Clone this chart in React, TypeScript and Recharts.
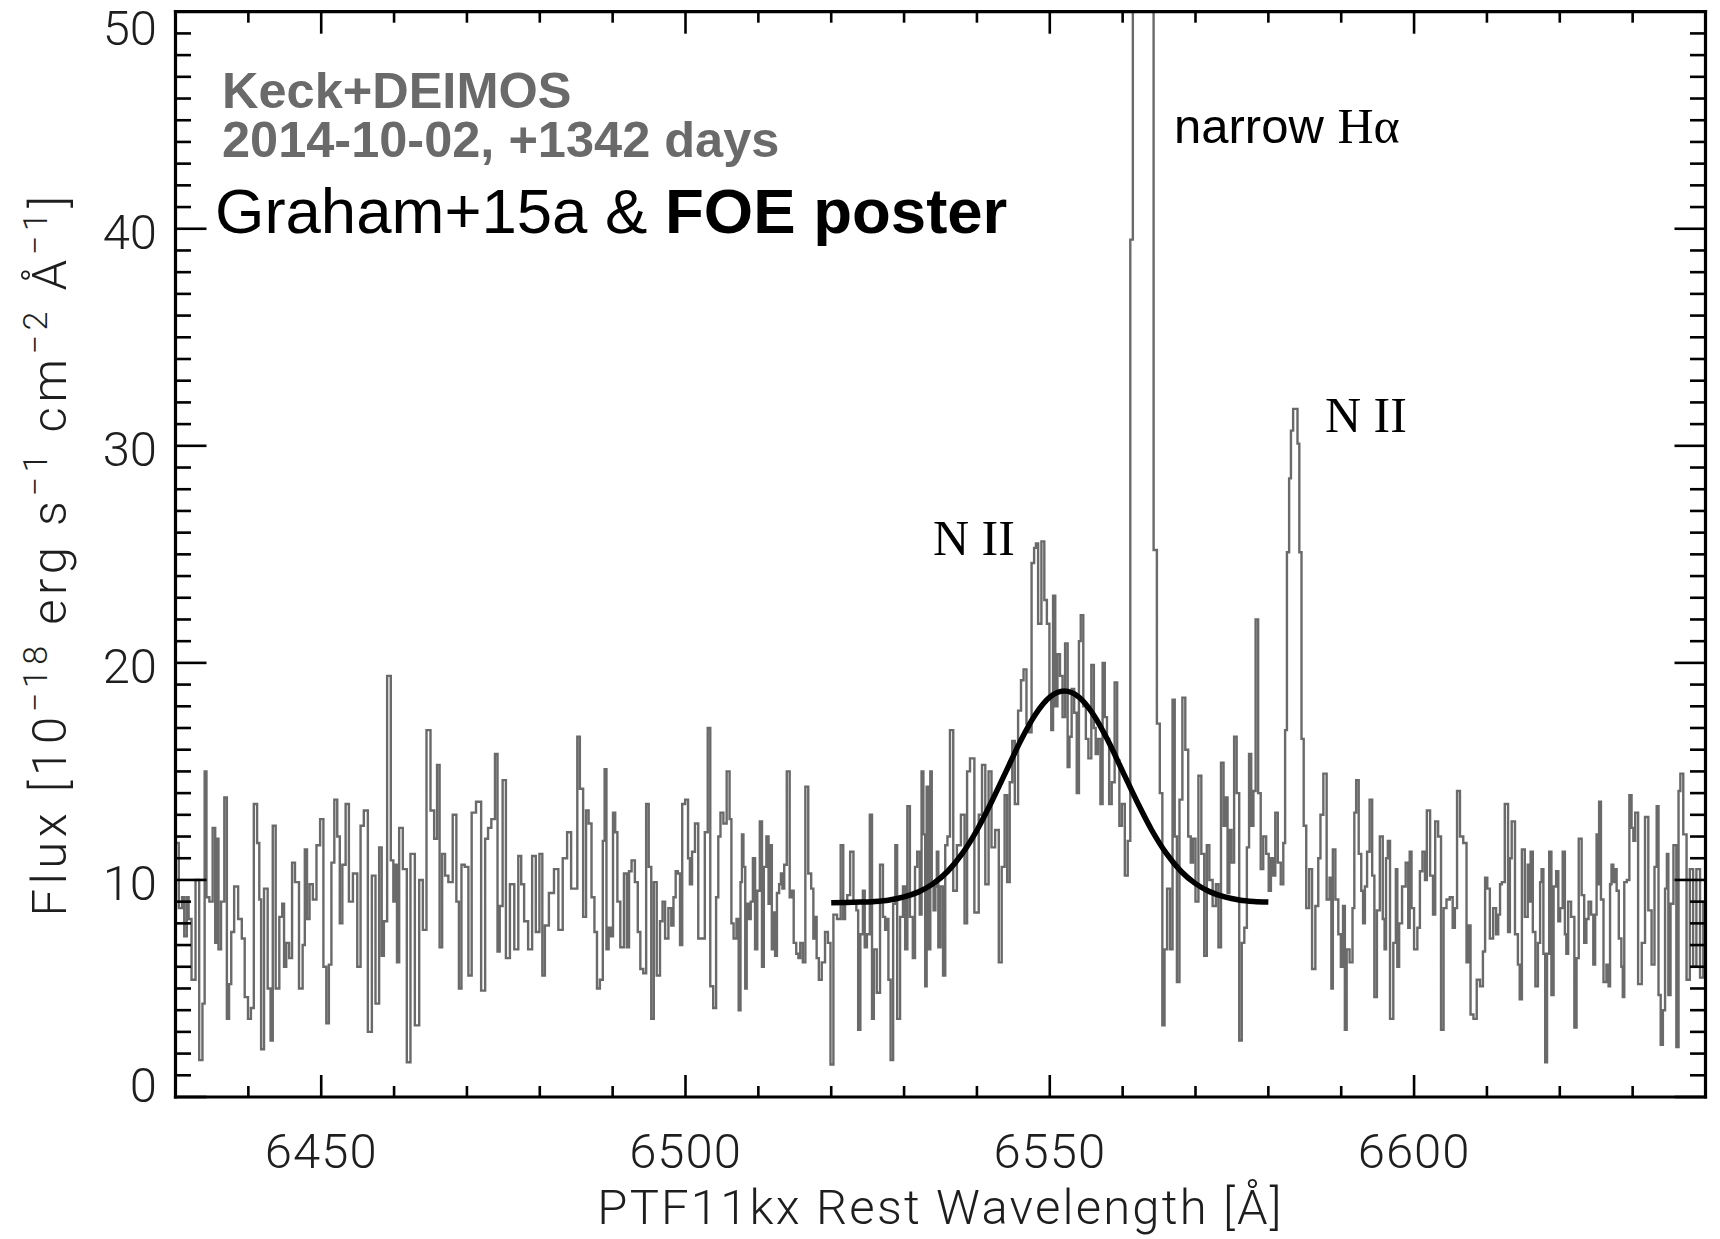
import React from 'react';
import { ComposedChart, Line, XAxis, YAxis } from 'recharts';

// ---------- layout constants (pixels) ----------
const W = 1720;
const H = 1239;
const PL = 175.5;
const PR = 1705.5;
const PT = 11.7;
const PB = 1097;

// ---------- axes ----------
const X_DOMAIN: [number, number] = [6430, 6640];
const Y_DOMAIN: [number, number] = [0, 50];
const X_TICKS = [6430, 6440, 6450, 6460, 6470, 6480, 6490, 6500, 6510, 6520, 6530, 6540, 6550, 6560, 6570, 6580, 6590, 6600, 6610, 6620, 6630, 6640];
const X_MAJOR = [6450, 6500, 6550, 6600];
const Y_TICKS = [0, 1, 2, 3, 4, 5, 6, 7, 8, 9, 10, 11, 12, 13, 14, 15, 16, 17, 18, 19, 20, 21, 22, 23, 24, 25, 26, 27, 28, 29, 30, 31, 32, 33, 34, 35, 36, 37, 38, 39, 40, 41, 42, 43, 44, 45, 46, 47, 48, 49, 50];
const Y_MAJOR = [0, 10, 20, 30, 40, 50];

// ---------- spectrum: [rest wavelength (A), flux (1e-18 erg/s/cm2/A)] ----------
const SPEC_6430_6485 = [
  [6430.1, 11.7], [6430.8, 8.7], [6431.0, 9.2], [6431.4, 7.4], [6431.7, 9.2], [6431.9, 8.2], [6432.5, 5.4], [6433.0, 10.0], [6433.5, 1.7], [6433.9, 4.3],
  [6434.1, 15.0], [6434.4, 9.2], [6434.9, 9.0], [6435.3, 12.4], [6435.6, 7.1], [6435.8, 11.9], [6436.0, 6.8], [6436.5, 9.0], [6436.9, 13.8], [6437.2, 3.6],
  [6437.5, 5.2], [6437.8, 7.6], [6438.3, 9.7], [6438.9, 8.2], [6439.3, 7.3], [6439.7, 4.6], [6440.2, 3.6], [6440.5, 4.1], [6441.0, 13.5], [6441.4, 11.7],
  [6441.6, 9.1], [6441.9, 2.2], [6442.4, 9.6], [6442.9, 5.0], [6443.2, 2.6], [6443.5, 12.5], [6444.0, 5.0], [6444.5, 8.3], [6444.8, 8.9], [6445.0, 6.0],
  [6445.4, 7.1], [6445.8, 6.4], [6446.2, 10.8], [6446.6, 9.9], [6447.3, 5.0], [6447.6, 7.0], [6447.9, 11.4], [6448.2, 8.2], [6448.6, 9.8], [6449.1, 9.1],
  [6449.6, 11.6], [6450.1, 12.8], [6450.5, 6.0], [6450.9, 3.4], [6451.2, 6.1], [6451.6, 10.8], [6452.0, 13.7], [6452.4, 12.0], [6452.7, 8.0], [6453.1, 10.7],
  [6453.6, 13.5], [6454.0, 9.0], [6454.7, 10.3], [6455.2, 6.0], [6455.6, 12.5], [6456.1, 13.2], [6456.7, 3.0], [6457.2, 10.2], [6457.7, 4.3], [6458.2, 11.5],
  [6458.4, 6.5], [6458.8, 8.1], [6459.3, 19.4], [6459.8, 10.9], [6460.0, 9.0], [6460.3, 10.7], [6460.5, 6.2], [6460.9, 12.4], [6461.5, 10.5], [6462.0, 1.6],
  [6462.5, 11.2], [6463.2, 3.3], [6463.7, 10.0], [6464.2, 7.7], [6464.7, 16.9], [6465.3, 13.2], [6465.7, 11.9], [6466.1, 15.3], [6466.4, 6.9], [6466.8, 11.2],
  [6467.2, 10.2], [6467.7, 9.9], [6468.4, 13.0], [6468.7, 9.0], [6469.1, 5.0], [6469.4, 10.7], [6470.0, 10.6], [6470.4, 5.6], [6470.9, 13.1], [6471.6, 13.6],
  [6472.3, 4.9], [6472.7, 11.9], [6473.1, 12.4], [6473.6, 12.8], [6474.1, 15.8], [6474.3, 6.7], [6474.7, 8.8], [6475.1, 14.6], [6475.6, 6.4], [6476.2, 9.8],
  [6476.8, 6.8], [6477.3, 11.1], [6477.6, 9.8], [6478.1, 8.1], [6478.7, 6.8], [6479.2, 11.1], [6479.7, 7.6], [6480.2, 11.2], [6480.5, 5.6], [6480.9, 7.9],
  [6481.6, 9.4], [6482.3, 10.5], [6482.8, 7.7], [6483.5, 11.0], [6484.0, 12.2], [6484.6, 9.6],
];

const SPEC_6485_6540 = [
  [6485.0, 9.6], [6485.3, 16.6], [6485.7, 14.2], [6486.2, 8.3], [6486.5, 13.2], [6486.9, 12.6], [6487.3, 9.2], [6487.7, 7.6], [6488.0, 5.0], [6488.5, 5.4],
  [6488.8, 11.8], [6489.0, 15.1], [6489.3, 6.8], [6489.6, 7.8], [6489.9, 7.4], [6490.2, 13.1], [6490.5, 12.2], [6490.8, 9.0], [6491.3, 6.9], [6491.8, 10.3],
  [6492.1, 6.9], [6492.4, 10.4], [6492.8, 10.9], [6493.3, 9.9], [6493.6, 7.6], [6494.0, 5.9], [6494.4, 5.7], [6494.8, 13.5], [6495.1, 10.6], [6495.5, 3.6],
  [6495.8, 9.9], [6496.3, 5.6], [6496.7, 8.1], [6497.0, 9.0], [6497.4, 7.3], [6497.9, 8.7], [6498.2, 7.9], [6498.5, 9.2], [6498.8, 10.4], [6499.1, 10.3],
  [6499.4, 7.0], [6499.7, 13.5], [6500.2, 13.7], [6500.5, 11.0], [6500.7, 9.8], [6501.1, 11.3], [6501.5, 12.6], [6502.0, 7.3], [6502.4, 7.3], [6502.9, 12.2],
  [6503.2, 17.0], [6503.6, 5.1], [6504.0, 4.1], [6504.4, 9.2], [6504.6, 12.0], [6505.0, 13.1], [6505.4, 12.6], [6505.9, 15.0], [6506.2, 12.8], [6506.4, 8.0],
  [6506.8, 7.3], [6507.2, 8.2], [6507.4, 4.0], [6507.7, 9.9], [6507.8, 12.1], [6508.1, 10.6], [6508.3, 5.0], [6508.5, 8.9], [6508.8, 8.2], [6509.1, 9.0],
  [6509.4, 11.0], [6509.7, 6.8], [6510.0, 9.5], [6510.4, 12.7], [6510.6, 6.0], [6510.9, 10.6], [6511.3, 12.0], [6511.5, 8.9], [6511.7, 11.6], [6512.0, 6.8],
  [6512.2, 8.5], [6512.4, 6.5], [6512.7, 9.4], [6513.0, 9.8], [6513.2, 10.3], [6513.4, 9.6], [6513.7, 10.7], [6514.1, 15.0], [6514.5, 9.2], [6514.7, 9.5],
  [6515.0, 7.1], [6515.4, 6.6], [6515.6, 6.4], [6515.9, 7.1], [6516.3, 6.2], [6516.6, 14.3], [6517.1, 10.3], [6517.4, 9.6], [6517.7, 7.3], [6517.9, 8.3],
  [6518.1, 6.4], [6518.5, 5.4], [6518.9, 6.2], [6519.4, 7.6], [6519.7, 7.1], [6520.1, 1.5], [6520.5, 8.4], [6521.1, 8.2], [6521.5, 11.6], [6521.8, 8.2],
  [6522.0, 9.0], [6522.4, 9.3], [6522.8, 11.3], [6523.3, 8.9], [6523.6, 8.6], [6523.8, 3.1], [6524.2, 7.5], [6524.5, 9.5], [6524.7, 6.9], [6525.1, 7.5],
  [6525.5, 13.0], [6525.7, 3.6], [6526.0, 6.8], [6526.5, 4.8], [6526.9, 10.7], [6527.3, 8.3], [6527.5, 7.7], [6527.7, 8.2], [6528.0, 5.4], [6528.3, 1.7],
  [6528.7, 8.9], [6528.9, 11.6], [6529.2, 3.6], [6529.7, 8.3], [6530.0, 9.7], [6530.3, 6.8], [6530.6, 13.4], [6531.0, 8.3], [6531.4, 6.4], [6531.6, 10.6],
  [6532.0, 11.3], [6532.3, 8.4], [6532.5, 15.0], [6532.8, 12.1], [6533.0, 5.1], [6533.2, 14.3], [6533.5, 6.8], [6533.7, 15.0], [6533.9, 9.8], [6534.2, 8.6],
  [6534.4, 9.7], [6534.6, 11.3], [6534.8, 6.9], [6535.2, 9.7], [6535.5, 5.6], [6535.8, 11.6], [6536.1, 12.0], [6536.5, 16.9], [6537.0, 9.5], [6537.5, 11.6],
  [6538.1, 13.0], [6538.5, 8.0], [6538.8, 15.0], [6539.3, 15.6],
];

const SPEC_6540_6588 = [
  [6540.0, 8.5], [6540.5, 13.0], [6540.9, 15.3], [6541.4, 9.8], [6541.8, 15.0], [6542.2, 11.5], [6542.8, 12.3], [6543.2, 6.2], [6543.6, 10.6], [6544.0, 13.9],
  [6544.3, 9.9], [6544.7, 14.5], [6545.0, 16.4], [6545.4, 13.5], [6545.9, 17.8], [6546.2, 19.2], [6546.6, 19.7], [6547.0, 17.2], [6547.3, 16.8], [6547.7, 24.6],
  [6548.0, 25.3], [6548.2, 25.5], [6548.6, 21.8], [6549.1, 25.6], [6549.4, 22.9], [6549.8, 21.8], [6550.1, 18.5], [6550.3, 16.9], [6550.6, 23.1], [6550.9, 18.0],
  [6551.2, 20.4], [6551.6, 19.4], [6551.9, 17.5], [6552.3, 20.9], [6552.6, 15.2], [6552.8, 16.6], [6553.2, 18.8], [6553.5, 17.7], [6553.9, 14.0], [6554.1, 21.0],
  [6554.4, 22.2], [6554.8, 18.0], [6555.1, 16.5], [6555.5, 15.6], [6555.9, 19.9], [6556.2, 17.0], [6556.4, 15.8], [6556.8, 16.5], [6557.1, 13.5], [6557.4, 20.0],
  [6557.7, 17.5], [6558.0, 16.5], [6558.3, 13.5], [6558.7, 14.5], [6559.1, 19.1], [6559.4, 15.5], [6559.7, 12.5], [6560.1, 13.5], [6560.5, 10.2], [6560.9, 11.8],
  [6561.2, 39.5], [6561.6, 160], [6562.0, 300], [6562.4, 320], [6562.8, 240], [6563.2, 150], [6563.6, 90], [6564.0, 55], [6564.5, 25.2], [6564.9, 17.2],
  [6565.3, 14.0], [6565.6, 3.3], [6565.9, 6.8], [6566.3, 9.6], [6566.7, 6.8], [6567.0, 18.3], [6567.3, 12.0], [6567.6, 5.3], [6568.0, 13.7], [6568.4, 18.4],
  [6568.8, 16.0], [6569.2, 12.0], [6569.5, 10.8], [6569.8, 11.9], [6570.2, 9.0], [6570.6, 14.8], [6571.0, 11.2], [6571.4, 6.5], [6571.7, 11.6], [6572.1, 10.0],
  [6572.6, 8.8], [6573.0, 9.8], [6573.3, 6.9], [6573.7, 15.4], [6574.0, 12.5], [6574.3, 13.8], [6574.5, 9.4], [6574.8, 12.3], [6575.1, 10.8], [6575.5, 16.6],
  [6575.8, 14.0], [6576.2, 2.6], [6576.5, 7.1], [6576.9, 7.8], [6577.2, 11.5], [6577.5, 15.8], [6577.8, 12.5], [6578.1, 14.1], [6578.4, 22.0], [6578.8, 14.0],
  [6579.1, 10.5], [6579.5, 12.0], [6579.9, 11.2], [6580.2, 9.5], [6580.5, 11.0], [6580.8, 10.2], [6581.1, 13.1], [6581.5, 10.8], [6581.9, 9.8], [6582.2, 11.7],
  [6582.4, 16.9], [6582.7, 25.1], [6583.0, 28.5], [6583.2, 30.7], [6583.6, 31.7], [6583.9, 31.7], [6584.1, 30.1], [6584.4, 25.1], [6584.7, 16.5], [6585.0, 12.5],
  [6585.4, 8.7], [6585.8, 10.5], [6586.2, 5.9], [6586.7, 8.8], [6587.0, 11.0], [6587.3, 13.0], [6587.8, 14.9], [6588.2, 9.1],
];

const SPEC_6588_6640 = [
  [6588.6, 10.1], [6588.7, 5.0], [6589.0, 11.4], [6589.4, 9.1], [6589.8, 7.5], [6590.1, 6.0], [6590.4, 8.8], [6590.6, 3.1], [6590.9, 6.8], [6591.4, 6.2],
  [6591.7, 8.7], [6591.9, 13.1], [6592.2, 14.6], [6592.6, 11.2], [6592.9, 9.5], [6593.1, 8.0], [6593.4, 9.7], [6593.7, 11.3], [6594.1, 13.7], [6594.4, 10.2],
  [6594.7, 4.6], [6595.1, 8.6], [6595.5, 12.0], [6595.9, 8.2], [6596.0, 6.8], [6596.3, 11.0], [6596.5, 11.8], [6596.9, 3.6], [6597.4, 7.1], [6597.6, 10.5],
  [6597.8, 6.0], [6598.1, 8.0], [6598.6, 9.7], [6599.1, 10.8], [6599.3, 7.8], [6599.5, 11.3], [6599.8, 8.7], [6600.2, 6.8], [6600.7, 7.8], [6600.9, 10.4],
  [6601.4, 11.3], [6601.6, 10.0], [6601.9, 13.2], [6602.5, 10.2], [6602.7, 8.4], [6603.1, 12.7], [6603.5, 12.0], [6603.9, 3.1], [6604.2, 8.7], [6604.7, 9.1],
  [6605.1, 9.2], [6605.5, 7.8], [6605.7, 8.7], [6606.1, 14.1], [6606.5, 12.0], [6607.0, 11.7], [6607.4, 6.2], [6607.6, 7.9], [6607.9, 3.8], [6608.4, 3.6],
  [6608.8, 5.4], [6609.3, 5.1], [6609.6, 6.7], [6609.9, 10.1], [6610.2, 9.6], [6610.6, 7.3], [6611.1, 8.7], [6611.4, 7.5], [6611.7, 8.4], [6611.9, 9.8],
  [6612.2, 9.9], [6612.7, 13.5], [6613.1, 7.6], [6613.2, 11.0], [6613.6, 12.7], [6614.1, 7.5], [6614.4, 6.1], [6614.6, 4.5], [6615.0, 11.4], [6615.4, 8.3],
  [6615.8, 10.7], [6615.9, 9.0], [6616.1, 11.3], [6616.5, 7.6], [6616.8, 5.1], [6617.2, 7.1], [6617.4, 9.9], [6617.6, 10.5], [6617.9, 6.6], [6618.1, 1.6],
  [6618.4, 6.6], [6618.7, 11.3], [6619.0, 4.7], [6619.3, 9.7], [6619.7, 10.4], [6619.9, 8.1], [6620.2, 8.7], [6620.6, 11.3], [6620.8, 7.5], [6621.0, 6.6],
  [6621.3, 9.0], [6621.8, 8.3], [6622.2, 3.2], [6622.4, 6.4], [6622.8, 11.9], [6623.2, 9.3], [6623.5, 7.1], [6623.8, 8.2], [6624.1, 9.0], [6624.5, 8.4],
  [6624.7, 6.1], [6625.0, 8.4], [6625.1, 12.1], [6625.3, 9.8], [6625.5, 13.6], [6625.8, 9.1], [6626.2, 5.3], [6626.6, 6.1], [6626.8, 5.1], [6627.0, 9.8],
  [6627.2, 10.7], [6627.5, 9.9], [6627.7, 10.5], [6627.9, 9.5], [6628.3, 7.3], [6628.6, 6.0], [6628.7, 4.6], [6629.0, 9.9], [6629.4, 10.0], [6629.7, 13.9],
  [6630.0, 12.4], [6630.2, 11.8], [6630.5, 13.1], [6631.0, 5.2], [6631.5, 7.1], [6631.9, 12.9], [6632.4, 8.6], [6632.8, 6.1], [6633.2, 10.6], [6633.4, 13.4],
  [6633.7, 4.7], [6634.0, 2.4], [6634.3, 4.0], [6634.6, 9.6], [6634.8, 11.2], [6635.0, 4.7], [6635.4, 8.9], [6635.8, 11.6], [6636.2, 2.3], [6636.4, 14.1],
  [6636.7, 14.9], [6637.2, 12.1], [6637.6, 5.4], [6638.1, 10.5], [6638.5, 6.0], [6639.0, 10.5], [6639.5, 5.5], [6639.9, 8.9],
];

// ---------- broad H-alpha Gaussian fit ----------
const FIT_WAVE = [6520, 6522, 6524, 6526, 6528, 6530, 6532, 6534, 6536, 6538, 6540, 6542, 6544, 6546, 6548, 6550, 6552, 6554, 6556, 6558, 6560, 6562, 6564, 6566, 6568, 6570, 6572, 6574, 6576, 6578, 6580];
const FIT_FLUX = [8.95, 8.96, 8.98, 9.01, 9.08, 9.22, 9.45, 9.83, 10.4, 11.22, 12.29, 13.59, 15.0, 16.41, 17.61, 18.42, 18.7, 18.42, 17.61, 16.41, 15.0, 13.59, 12.29, 11.22, 10.4, 9.83, 9.45, 9.22, 9.08, 9.01, 8.98];

const SPECTRUM = [...SPEC_6430_6485, ...SPEC_6485_6540, ...SPEC_6540_6588, ...SPEC_6588_6640].map(([w, f]) => ({ w, f }));
const FIT = FIT_WAVE.map((w, i) => ({ w, f: FIT_FLUX[i] }));

// ---------- fonts / colours ----------
const LIGHT = "'Roboto', 'Liberation Sans', sans-serif";
const HELV = "'Liberation Sans', Arial, Helvetica, sans-serif";
const TIMES = "'Liberation Serif', 'Times New Roman', serif";
const INK = '#1e1e1e';
const SPEC_GRAY = '#6a6a6a';

// y tick label vertical centres (the end labels sit inside the frame, as in the original)
const yLabelCenter = (v: number, y: number) => {
  if (v === 0) return y - 13;
  if (v === 50) return y + 16;
  return y + 3;
};

const LeftTick = (props: any) => {
  const { y, payload } = props;
  const v = payload.value as number;
  const major = Y_MAJOR.includes(v);
  const len = major ? 31 : 15.5;
  return (
    <g>
      <line x1={PL} x2={PL + len} y1={y} y2={y} stroke="#000" strokeWidth={2.6} />
      {major && (
        <text x={157} y={yLabelCenter(v, y) + 17.5} textAnchor="end" fontFamily={LIGHT} fontWeight={300} fontSize={49} fill={INK}>
          {v}
        </text>
      )}
    </g>
  );
};

const RightTick = (props: any) => {
  const { y, payload } = props;
  const v = payload.value as number;
  const len = Y_MAJOR.includes(v) ? 31 : 15.5;
  return <line x1={PR} x2={PR - len} y1={y} y2={y} stroke="#000" strokeWidth={2.6} />;
};

const BottomTick = (props: any) => {
  const { x, payload } = props;
  const v = payload.value as number;
  const major = X_MAJOR.includes(v);
  const len = major ? 22 : 11;
  return (
    <g>
      <line x1={x} x2={x} y1={PB} y2={PB - len} stroke="#000" strokeWidth={2.6} />
      {major && (
        <text x={x} y={1168} textAnchor="middle" fontFamily={LIGHT} fontWeight={300} fontSize={49} letterSpacing={1} fill={INK}>
          {v}
        </text>
      )}
    </g>
  );
};

const TopTick = (props: any) => {
  const { x, payload } = props;
  const v = payload.value as number;
  const len = X_MAJOR.includes(v) ? 22 : 11;
  return <line x1={x} x2={x} y1={PT} y2={PT + len} stroke="#000" strokeWidth={2.6} />;
};

const AXIS_LINE = { stroke: '#000', strokeWidth: 3.2, strokeLinecap: 'square' as const };

export default function App() {
  return (
    <div style={{ position: 'absolute', left: 0, top: 0, width: W, height: H, background: '#fff' }}>
      <ComposedChart
        width={W}
        height={H}
        margin={{ top: PT - 1, right: W - PR - 1, bottom: H - PB - 1, left: PL - 1 }}
      >
        <XAxis
          xAxisId="b"
          type="number"
          dataKey="w"
          domain={X_DOMAIN}
          allowDataOverflow
          ticks={X_TICKS}
          interval={0}
          height={1}
          tickLine={false}
          tickSize={0}
          tick={BottomTick}
          axisLine={AXIS_LINE}
        />
        <XAxis
          xAxisId="t"
          orientation="top"
          type="number"
          dataKey="w"
          domain={X_DOMAIN}
          allowDataOverflow
          ticks={X_TICKS}
          interval={0}
          height={1}
          tickLine={false}
          tickSize={0}
          tick={TopTick}
          axisLine={AXIS_LINE}
        />
        <YAxis
          yAxisId="l"
          type="number"
          domain={Y_DOMAIN}
          allowDataOverflow
          ticks={Y_TICKS}
          interval={0}
          width={1}
          tickLine={false}
          tickSize={0}
          tick={LeftTick}
          axisLine={AXIS_LINE}
        />
        <YAxis
          yAxisId="r"
          orientation="right"
          type="number"
          domain={Y_DOMAIN}
          allowDataOverflow
          ticks={Y_TICKS}
          interval={0}
          width={1}
          tickLine={false}
          tickSize={0}
          tick={RightTick}
          axisLine={AXIS_LINE}
        />
        <Line
          data={SPECTRUM}
          xAxisId="b"
          yAxisId="l"
          dataKey="f"
          type="step"
          stroke={SPEC_GRAY}
          strokeWidth={2.4}
          dot={false}
          activeDot={false}
          isAnimationActive={false}
        />
        <Line
          data={FIT}
          xAxisId="b"
          yAxisId="l"
          dataKey="f"
          type="monotone"
          stroke="#000"
          strokeWidth={5.5}
          dot={false}
          activeDot={false}
          isAnimationActive={false}
        />
      </ComposedChart>

      <svg width={W} height={H} style={{ position: 'absolute', left: 0, top: 0, pointerEvents: 'none' }}>
        {/* in-plot annotations */}
        <text x={222} y={108} fontFamily={HELV} fontWeight={700} fontSize={50.5} fill="#6a6a6a">Keck+DEIMOS</text>
        <text x={222} y={157} fontFamily={HELV} fontWeight={700} fontSize={50.5} fill="#6a6a6a">2014-10-02, +1342 days</text>
        <text x={215} y={233} fontFamily={HELV} fontSize={63.5} fill="#000">
          Graham+15a &amp; <tspan fontWeight={700}>FOE poster</tspan>
        </text>
        <text x={1174} y={143} fontFamily={HELV} fontSize={49} fill="#000">
          narrow <tspan fontFamily={TIMES} fontSize={50}>Hα</tspan>
        </text>
        <text x={933} y={555} fontFamily={TIMES} fontSize={50} fill="#000">N II</text>
        <text x={1325} y={432} fontFamily={TIMES} fontSize={50} fill="#000">N II</text>

        {/* axis titles */}
        <text x={940.5} y={1224} textAnchor="middle" fontFamily={LIGHT} fontWeight={300} fontSize={49} letterSpacing={2.2} fill={INK}>
          PTF11kx Rest Wavelength [Å]
        </text>
        <text
          x={66}
          y={554}
          transform="rotate(-90 66 554)"
          textAnchor="middle"
          fontFamily={LIGHT}
          fontWeight={300}
          fontSize={49}
          letterSpacing={4.6}
          fill={INK}
        >
          Flux [10<tspan dy={-19} fontSize={34}>−18</tspan>
          <tspan dy={19}> erg s</tspan>
          <tspan dy={-19} fontSize={34}>−1</tspan>
          <tspan dy={19}> cm</tspan>
          <tspan dy={-19} fontSize={34}>−2</tspan>
          <tspan dy={19}> Å</tspan>
          <tspan dy={-19} fontSize={34}>−1</tspan>
          <tspan dy={19}>]</tspan>
        </text>
      </svg>
    </div>
  );
}
